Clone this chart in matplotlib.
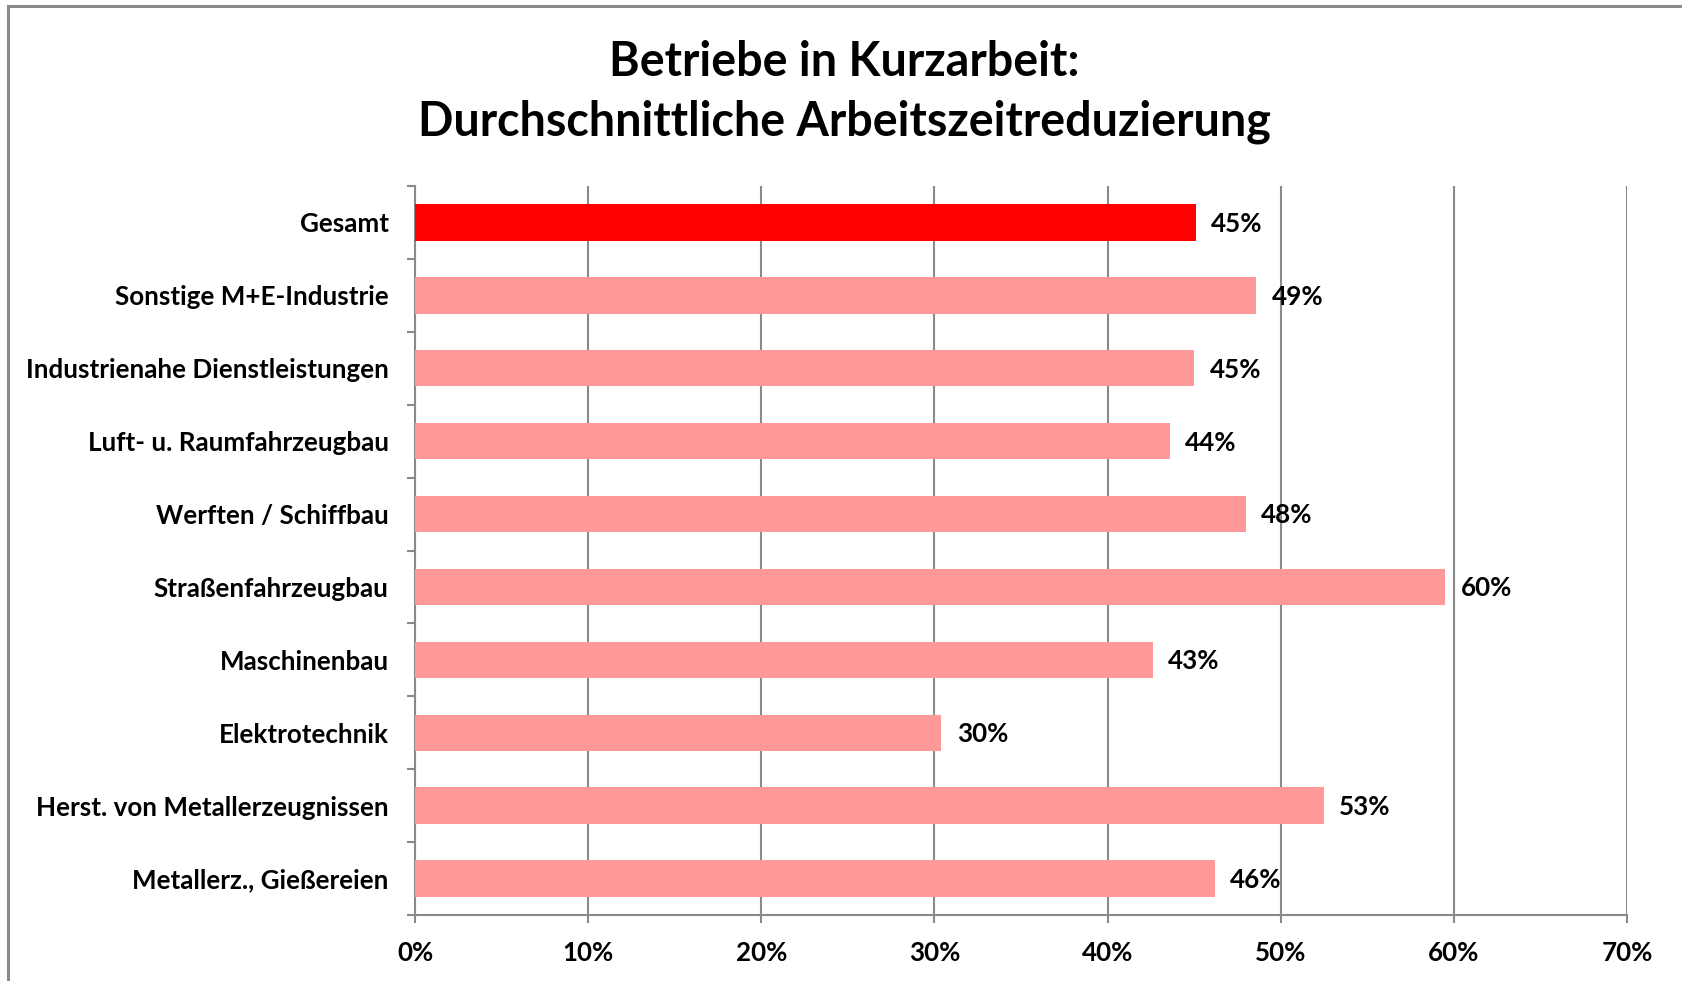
import matplotlib
matplotlib.use("Agg")
import matplotlib.pyplot as plt
from matplotlib.lines import Line2D
import numpy as np

plt.rcParams['font.family'] = ['Lato', 'DejaVu Sans']
plt.rcParams['font.weight'] = 'bold'

# Daten
kategorien = ["Gesamt", "Sonstige M+E-Industrie", "Industrienahe Dienstleistungen",
              "Luft- u. Raumfahrzeugbau", "Werften / Schiffbau", "Straßenfahrzeugbau",
              "Maschinenbau", "Elektrotechnik", "Herst. von Metallerzeugnissen",
              "Metallerz., Gießereien"]
werte = [45.1, 48.6, 45.0, 43.6, 48.0, 59.5, 42.6, 30.4, 52.5, 46.2]
beschriftung = ["45%", "49%", "45%", "44%", "48%", "60%", "43%", "30%", "53%", "46%"]
farben = ["#FF0000"] + ["#FF9999"] * 9

grau = "#8a8a8a"
fs = 18.7

fig = plt.figure(figsize=(16.82, 9.81), dpi=100)
ax = fig.add_axes([415 / 1682, 1 - 915 / 981, (1627 - 415) / 1682, (915 - 186) / 981])

y = np.arange(len(kategorien))
ax.barh(y, werte, height=0.5, color=farben, zorder=3)

for yi, w, t in zip(y, werte, beschriftung):
    ax.annotate(t, (w, yi), xytext=(11, -1), textcoords="offset points",
                va="center", ha="left", fontsize=fs, fontweight="bold", zorder=4)

ax.set_xlim(0, 70)
ax.set_ylim(len(kategorien) - 0.5, -0.5)
ax.set_xticks(np.arange(0, 71, 10))
ax.set_xticklabels([f"{v}%" for v in range(0, 71, 10)], fontsize=fs, fontweight="bold")
ax.set_yticks(y)
ax.set_yticklabels(kategorien, fontsize=fs, fontweight="bold")
ax.set_yticks(np.arange(-0.5, len(kategorien), 1), minor=True)

ax.tick_params(axis="y", which="major", length=0, pad=19)
ax.tick_params(axis="y", which="minor", length=6, width=1.5, color=grau, direction="out")
ax.tick_params(axis="x", which="major", length=6, width=1.5, color=grau, pad=13)

ax.grid(axis="x", color=grau, linewidth=1.5, zorder=0)
for s in ["top", "right"]:
    ax.spines[s].set_visible(False)
for s in ["left", "bottom"]:
    ax.spines[s].set_color(grau)
    ax.spines[s].set_linewidth(1.5)

fig.text(0.502, 1 - 92 / 981, "Betriebe in Kurzarbeit:\nDurchschnittliche Arbeitszeitreduzierung",
         ha="center", va="center", fontsize=33.6, fontweight="bold", linespacing=1.44)

# Rahmen oben und links
fig.add_artist(Line2D([8 / 1682, 1], [1 - 6 / 981, 1 - 6 / 981], color=grau, linewidth=2.2))
fig.add_artist(Line2D([8 / 1682, 8 / 1682], [0, 1 - 6 / 981], color=grau, linewidth=2.2))

fig.savefig("out.png", dpi=100)
